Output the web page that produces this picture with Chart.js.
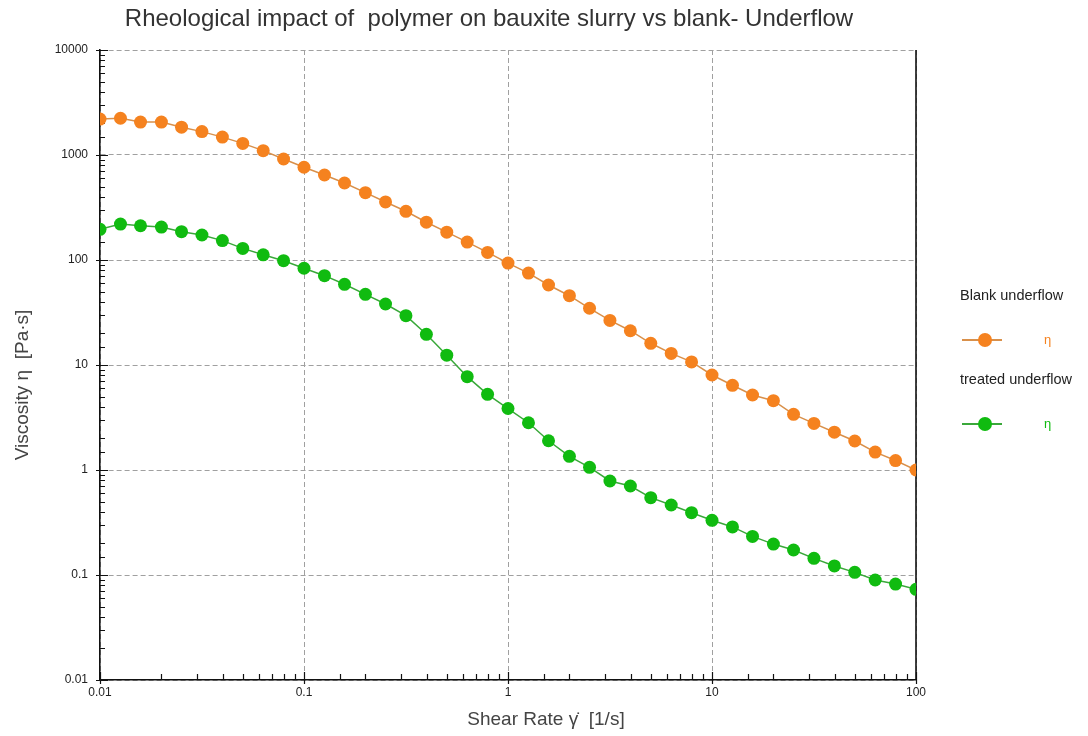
<!DOCTYPE html>
<html>
<head>
<meta charset="utf-8">
<script src="https://cdn.jsdelivr.net/npm/chart.js@4.4.1/dist/chart.umd.min.js"></script>
<style>
    html, body { margin: 0; padding: 0; background: #fff; }
    #wrap { position: relative; width: 1088px; height: 736px; font-family: 'Liberation Sans', Arial, sans-serif; }
    #title { position: absolute; left: 0; width: 978px; top: 4px; text-align: center; font-size: 24px; color: #333; white-space: pre; }
    #xTitle { position: absolute; left: 346px; width: 400px; top: 708px; text-align: center; font-size: 19px; color: #444; white-space: pre; }
    #yTitle { position: absolute; left: 22px; top: 386px; width: 300px; margin-left: -150px; margin-top: -12px; text-align: center;
              font-size: 19px; color: #444; white-space: pre; transform: rotate(-90deg); }
    .lg-name { position: absolute; left: 960px; font-size: 14.5px; color: #222; white-space: nowrap; }
    .lg-line { position: absolute; left: 962px; width: 40px; height: 2px; }
    .lg-dot { position: absolute; left: 978px; width: 14px; height: 14px; border-radius: 50%; }
    .lg-sym { position: absolute; left: 1044px; font-size: 13px; }
</style>
</head>
<body>
<div id="wrap">
    <canvas id="chart" width="1088" height="736"></canvas>
    <div id="title">Rheological impact of  polymer on bauxite slurry vs blank- Underflow</div>
    <div id="xTitle">Shear Rate γ̇  [1/s]</div>
    <div id="yTitle">Viscosity η  [Pa·s]</div>
    <div id="legend"></div>
</div>
<script>
// shear rate points, 10 per decade
const shearRate = [
    0.01, 0.0126, 0.0158, 0.02, 0.0251, 0.0316, 0.0398, 0.0501, 0.0631, 0.0794,
    0.1, 0.126, 0.158, 0.2, 0.251, 0.316, 0.398, 0.501, 0.631, 0.794,
    1, 1.26, 1.58, 2, 2.51, 3.16, 3.98, 5.01, 6.31, 7.94,
    10, 12.6, 15.8, 20, 25.1, 31.6, 39.8, 50.1, 63.1, 79.4,
    100
];
const blankEta = [
    2200, 2240, 2060, 2060, 1840, 1670, 1480, 1290, 1100, 916,
    764, 645, 541, 438, 357, 291, 229, 184, 148, 118,
    93.5, 75, 57.8, 45.7, 34.7, 26.6, 21.2, 16.1, 12.9, 10.7,
    8.03, 6.41, 5.18, 4.57, 3.39, 2.78, 2.29, 1.89, 1.48, 1.23,
    1.0
];
const treatedEta = [
    196, 220, 212, 206, 186, 173, 153, 129, 112, 98.5,
    83.4, 70.9, 58.7, 47.1, 38.1, 29.5, 19.6, 12.4, 7.74, 5.26,
    3.85, 2.82, 1.90, 1.35, 1.06, 0.786, 0.704, 0.545, 0.464, 0.392,
    0.332, 0.287, 0.233, 0.197, 0.173, 0.144, 0.122, 0.106, 0.0896, 0.082,
    0.073
];
const seriesNames = ['Blank underflow', 'treated underflow'];
const seriesColors = ['#f5821f', '#10bb10'];
const lineColors = ['#d9904a', '#3aa83a'];
const symbolLabel = 'η';

const isDecade = v => Math.abs(Math.log10(v) - Math.round(Math.log10(v))) < 1e-6;
const fmt = v => {
    const e = Math.round(Math.log10(v));
    return e < 0 ? v.toFixed(-e) : String(Math.round(v));
};

// minor ticks pointing into the plot + right frame line
const axisDecor = {
    id: 'axisDecor',
    beforeDatasetsDraw(chart) {
        const { ctx, chartArea: a, scales: { x, y } } = chart;
        ctx.save();
        ctx.strokeStyle = '#111';
        ctx.lineWidth = 1.2;
        ctx.beginPath();
        x.ticks.forEach(t => {
            const px = Math.round(x.getPixelForValue(t.value)) + 0.5;
            const major = isDecade(t.value);
            ctx.moveTo(px, a.bottom + (major ? 4 : 0));
            ctx.lineTo(px, a.bottom - (major ? 8 : 6));
        });
        y.ticks.forEach(t => {
            const py = Math.round(y.getPixelForValue(t.value)) + 0.5;
            const major = isDecade(t.value);
            ctx.moveTo(a.left - (major ? 4 : 0), py);
            ctx.lineTo(a.left + (major ? 8 : 5), py);
        });
        ctx.stroke();
        ctx.lineWidth = 1.6;
        ctx.beginPath();
        ctx.moveTo(a.right, a.top);
        ctx.lineTo(a.right, a.bottom);
        ctx.stroke();
        ctx.restore();
    }
};

const makeDataset = (i, values) => ({
    label: seriesNames[i],
    data: shearRate.map((s, k) => ({ x: s, y: values[k] })),
    borderColor: lineColors[i],
    backgroundColor: seriesColors[i],
    pointBackgroundColor: seriesColors[i],
    pointBorderColor: seriesColors[i],
    pointRadius: 6.5,
    pointBorderWidth: 0,
    borderWidth: 1.5,
    tension: 0
});

const gridOpts = {
    drawTicks: false,
    lineWidth: 1,
    color: c => (c.tick && isDecade(c.tick.value)) ? '#a0a0a0' : 'rgba(0,0,0,0)'
};

const tickFont = { family: "'Liberation Sans', Arial, sans-serif", size: 12 };

new Chart(document.getElementById('chart').getContext('2d'), {
    type: 'line',
    data: {
        datasets: [makeDataset(0, blankEta), makeDataset(1, treatedEta)]
    },
    options: {
        responsive: false,
        animation: false,
        layout: { padding: { left: 0, right: 172, top: 50, bottom: 0 } },
        plugins: {
            legend: { display: false },
            tooltip: { enabled: false }
        },
        scales: {
            x: {
                type: 'logarithmic',
                min: 0.01,
                max: 100,
                afterFit: s => { s.height = 56; },
                grid: gridOpts,
                border: { display: true, color: '#111', width: 1.6, dash: [5, 3] },
                ticks: {
                    autoSkip: false,
                    maxRotation: 0,
                    padding: 5,
                    color: '#222',
                    font: tickFont,
                    callback: v => isDecade(v) ? fmt(v) : ''
                }
            },
            y: {
                type: 'logarithmic',
                min: 0.01,
                max: 10000,
                afterFit: s => { s.width = 100; },
                grid: gridOpts,
                border: { display: true, color: '#111', width: 1.6, dash: [5, 3] },
                ticks: {
                    autoSkip: false,
                    padding: 12,
                    color: '#222',
                    font: tickFont,
                    callback: v => isDecade(v) ? fmt(v) : ''
                }
            }
        }
    },
    plugins: [axisDecor]
});

// legend on the right, built from the series names
const legend = document.getElementById('legend');
const rows = [296, 380];
seriesNames.forEach((name, i) => {
    const top = rows[i];
    legend.insertAdjacentHTML('beforeend',
        `<div class="lg-name" style="top:${top - 9}px">${name}</div>` +
        `<div class="lg-line" style="top:${top + 43}px;background:${lineColors[i]}"></div>` +
        `<div class="lg-dot" style="top:${top + 37}px;background:${seriesColors[i]}"></div>` +
        `<div class="lg-sym" style="top:${top + 36}px;color:${seriesColors[i]}">${symbolLabel}</div>`);
});
</script>
</body>
</html>
